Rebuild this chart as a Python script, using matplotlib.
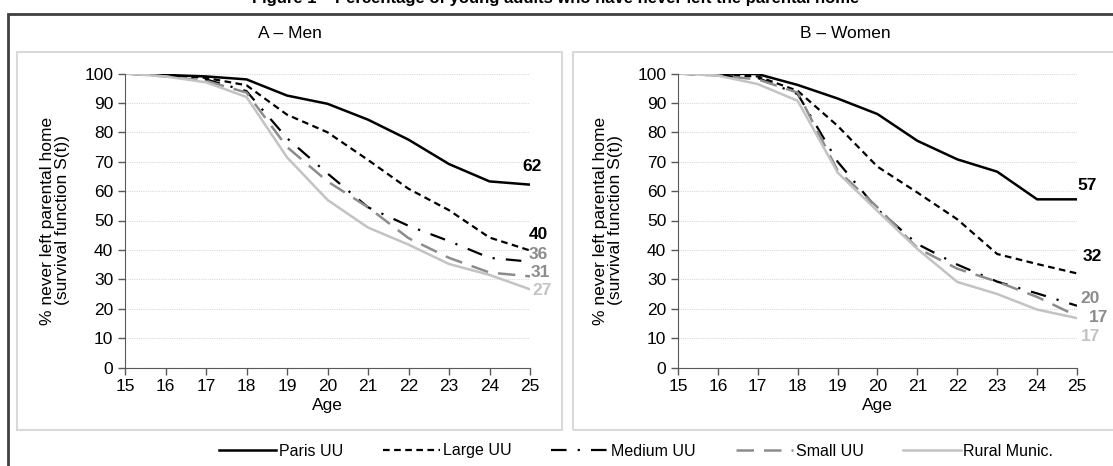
import matplotlib
matplotlib.use("Agg")
import matplotlib.pyplot as plt
from matplotlib.patches import Rectangle
from matplotlib.lines import Line2D

plt.rcParams['font.family'] = ['Liberation Sans Narrow', 'Liberation Sans', 'DejaVu Sans']

ages = [15, 16, 17, 18, 19, 20, 21, 22, 23, 24, 25]
series_names = ["Paris UU", "Large UU", "Medium UU", "Small UU", "Rural Munic."]

men_paris = [100, 99.5, 99, 98, 92.5, 89.7, 84.3, 77.5, 69.2, 63.3, 62.2]
men_large = [100, 99.5, 98.5, 96, 86, 80, 70.6, 60.8, 53.5, 44.2, 39.8]
men_medium = [100, 99.3, 98, 94, 78, 66, 54.5, 48.2, 43, 37.3, 36]
men_small = [100, 99, 97.5, 93.5, 75, 63.3, 54.5, 44, 37.3, 32.3, 31]
men_rural = [100, 99, 97, 92, 71.5, 57, 47.6, 41.8, 35.2, 31.5, 26.6]

women_paris = [100, 100, 99.8, 96.1, 91.5, 86.2, 77.1, 70.8, 66.6, 57.2, 57.2]
women_large = [100, 99.5, 99, 94.1, 82.2, 68.3, 59.5, 50.4, 38.6, 35.2, 32]
women_medium = [100, 99.3, 98.5, 93, 70, 53.8, 42, 35, 29.2, 25.2, 21]
women_small = [100, 99.3, 98, 93.5, 67, 54.5, 40.6, 33.6, 29.2, 24, 17.5]
women_rural = [100, 99.3, 96.4, 90.7, 66.3, 53.2, 40.3, 29.1, 25, 19.7, 16.8]

men_end_labels = ["62", "40", "36", "31", "27"]
men_label_pos = [(25.05, 68.5), (25.2, 45.4), (25.2, 38.6), (25.25, 32.2), (25.3, 26.1)]
women_end_labels = ["57", "32", "20", "17", "17"]
women_label_pos = [(25.25, 62), (25.38, 37.9), (25.33, 23.5), (25.55, 17), (25.33, 10.6)]

colors = ["black", "black", "black", "#8c8c8c", "#c3c3c3"]
label_colors = ["black", "black", "#8c8c8c", "#8c8c8c", "#c3c3c3"]
styles = ["-", (0, (3, 2)), (0, (7, 5, 1, 5)), (0, (7, 4)), "-"]
widths = [1.8, 1.6, 1.6, 1.8, 1.8]

fig = plt.figure(figsize=(11.13, 4.66), dpi=100)
W, H = 1113, 466


def px_rect(x0, y0, x1, y1, **kw):
    return Rectangle((x0 / W, 1 - y1 / H), (x1 - x0) / W, (y1 - y0) / H,
                     transform=fig.transFigure, fill=False, **kw)


fig.patches.append(px_rect(8, 14, 1122, 472, edgecolor="#404040", lw=2))
fig.patches.append(px_rect(17, 52, 562, 430, edgecolor="#d9d9d9", lw=1.5))
fig.patches.append(px_rect(573, 52, 1120, 430, edgecolor="#d9d9d9", lw=1.5))

# figure title sits mostly above the top edge, as in the source image
fig.text(556 / W, 1 - 3 / H, "Figure 1 – Percentage of young adults who have never left the parental home",
         ha="center", va="baseline", fontsize=12, fontweight="bold")
fig.text(290 / W, 1 - 33 / H, "A – Men", ha="center", va="center", fontsize=12.5)
fig.text(845 / W, 1 - 33 / H, "B – Women", ha="center", va="center", fontsize=12.5)

panels = [
    (125, 530, [men_paris, men_large, men_medium, men_small, men_rural], men_end_labels, men_label_pos),
    (678, 1077, [women_paris, women_large, women_medium, women_small, women_rural], women_end_labels, women_label_pos),
]

for x0, x1, data, end_labels, label_pos in panels:
    ax = fig.add_axes([x0 / W, 1 - 367.5 / H, (x1 - x0) / W, 294 / H])
    for vals, c, ls, lw in zip(data, colors, styles, widths):
        ax.plot(ages, vals, color=c, linestyle=ls, lw=lw, solid_joinstyle="round")
    for txt, (lx, ly), c in zip(end_labels, label_pos, label_colors):
        ax.text(lx, ly, txt, color=c, fontsize=12.5, fontweight="bold", ha="center", va="center",
                clip_on=False)
    ax.set_xlim(15, 25)
    ax.set_ylim(0, 100)
    ax.set_xticks(ages)
    ax.set_yticks(range(0, 101, 10))
    ax.grid(axis="y", color="#d9d9d9", linestyle=(0, (1, 1)), lw=0.8)
    ax.set_axisbelow(True)
    for s in ["top", "right"]:
        ax.spines[s].set_visible(False)
    ax.spines["left"].set_color("#595959")
    ax.spines["bottom"].set_color("#595959")
    ax.tick_params(axis="both", labelsize=12.5, color="#595959", length=5, width=1)
    ax.set_xlabel("Age", fontsize=12.5, labelpad=3)
    ax.set_ylabel("% never left parental home\n(survival function S(t))", fontsize=12.5, labelpad=10,
                  linespacing=1.0)

handles = [Line2D([], [], color=c, linestyle=ls, lw=lw) for c, ls, lw in zip(colors, styles, widths)]
fig.legend(handles, series_names, loc="center", bbox_to_anchor=(636 / W, 1 - 451 / H), ncol=5,
           frameon=False, fontsize=11.5, handlelength=3.6, handletextpad=0.15, columnspacing=2.5)

fig.savefig("out.png", dpi=100)
